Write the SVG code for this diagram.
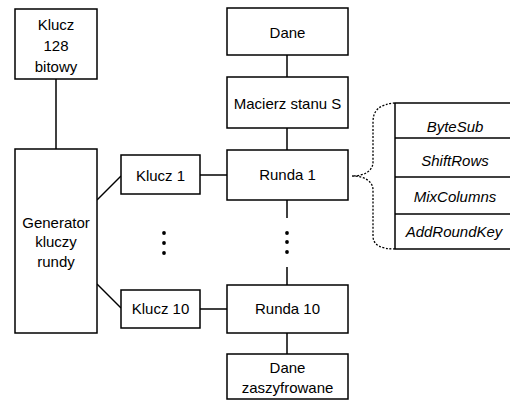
<svg xmlns="http://www.w3.org/2000/svg" width="510" height="401" viewBox="0 0 510 401">
<style>
.box{fill:#fff;stroke:#000;stroke-width:1.5}
.ln{stroke:#000;stroke-width:1.5;fill:none}
.dot{stroke:#000;stroke-width:1.3;fill:none;stroke-dasharray:2 1.6}
text{font-family:"Liberation Sans",Arial,sans-serif;font-size:15px;text-anchor:middle;fill:#000}
.it{font-style:italic}
</style>
<rect width="510" height="401" fill="#fff"/>
<g id="connectors">
<line class="ln" x1="56" y1="79" x2="56" y2="149"/>
<line class="ln" x1="97" y1="200" x2="121" y2="176"/>
<line class="ln" x1="200" y1="175" x2="227" y2="175"/>
<line class="ln" x1="97" y1="284" x2="121" y2="308"/>
<line class="ln" x1="200" y1="309" x2="227" y2="309"/>
<line class="ln" x1="287" y1="55" x2="287" y2="77"/>
<line class="ln" x1="287" y1="128" x2="287" y2="150"/>
<line class="ln" x1="287" y1="200" x2="287" y2="218"/>
<line class="ln" x1="287" y1="267" x2="287" y2="285"/>
<line class="ln" x1="287" y1="333" x2="287" y2="354"/>
<path class="dot" d="M395,103 C380,104 373,110 373,122 L373,162 C373,171 364,176 352,176 C364,176 373,181 373,190 L373,236 C373,245 381,249 395,249"/>
<g fill="#000">
<circle cx="164" cy="233" r="1.9"/><circle cx="164" cy="243" r="1.9"/><circle cx="164" cy="253" r="1.9"/>
<circle cx="287" cy="233" r="1.9"/><circle cx="287" cy="242" r="1.9"/><circle cx="287" cy="252" r="1.9"/>
</g>
</g>
<g id="klucz128"><rect class="box" x="15" y="9" width="82" height="70"/><text x="56" y="30">Klucz</text><text x="56" y="51">128</text><text x="56" y="71.5">bitowy</text></g>
<g id="generator"><rect class="box" x="15" y="149" width="82" height="184"/><text x="56" y="227.5">Generator</text><text x="56" y="247">kluczy</text><text x="56" y="267">rundy</text></g>
<g id="klucz1"><rect class="box" x="121" y="155" width="79" height="39"/><text x="160.5" y="180.5">Klucz 1</text></g>
<g id="klucz10"><rect class="box" x="121" y="290" width="79" height="38"/><text x="160.5" y="314">Klucz 10</text></g>
<g id="dane"><rect class="box" x="227" y="8" width="121" height="47"/><text x="287.5" y="38">Dane</text></g>
<g id="macierz"><rect class="box" x="227" y="77" width="121" height="51"/><text x="287.5" y="108.5">Macierz stanu S</text></g>
<g id="runda1"><rect class="box" x="227" y="150" width="121" height="50"/><text x="287.5" y="180">Runda 1</text></g>
<g id="runda10"><rect class="box" x="227" y="285" width="121" height="48"/><text x="287.5" y="314">Runda 10</text></g>
<g id="danezasz"><rect class="box" x="227" y="354" width="121" height="45"/><text x="287.5" y="373">Dane</text><text x="287.5" y="393">zaszyfrowane</text></g>
<g id="operacje">
<line class="ln" x1="395" y1="103" x2="395" y2="249"/>
<line class="ln" x1="395" y1="103" x2="510" y2="103"/>
<line class="ln" x1="395" y1="138" x2="510" y2="138"/>
<line class="ln" x1="395" y1="177" x2="510" y2="177"/>
<line class="ln" x1="395" y1="214" x2="510" y2="214"/>
<line class="ln" x1="395" y1="249" x2="510" y2="249"/>
<text class="it" x="455" y="131.5">ByteSub</text>
<text class="it" x="455" y="165.5">ShiftRows</text>
<text class="it" x="455" y="202">MixColumns</text>
<text class="it" x="454" y="237">AddRoundKey</text>
</g>
</svg>
